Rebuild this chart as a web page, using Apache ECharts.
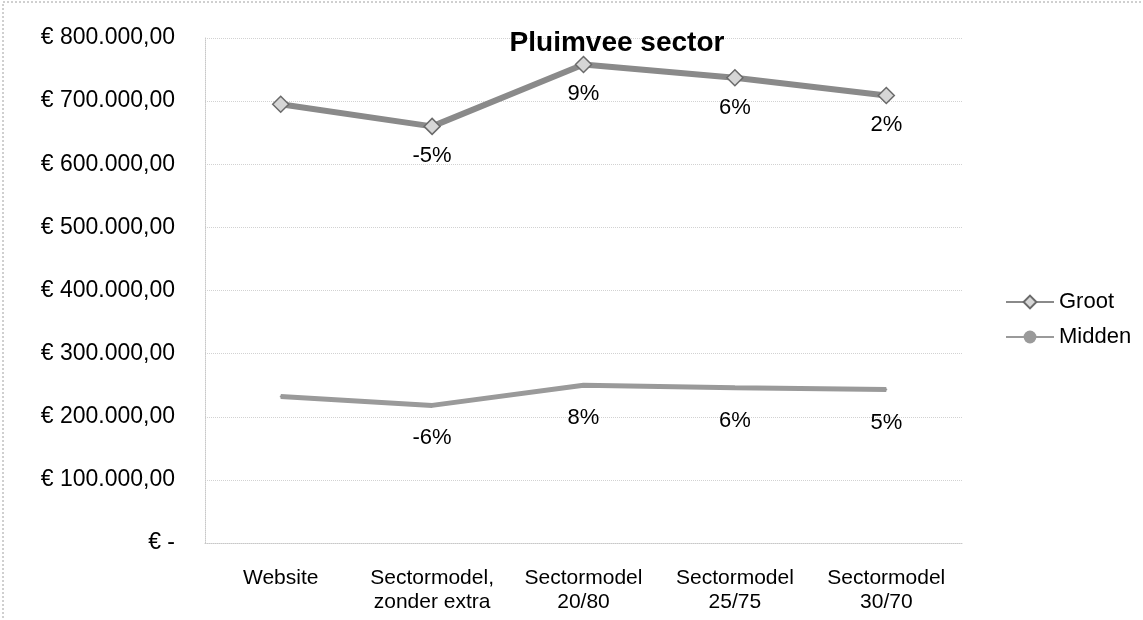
<!DOCTYPE html>
<html>
<head>
<meta charset="utf-8">
<script src="https://cdn.jsdelivr.net/npm/echarts@6/dist/echarts.min.js"></script>
<style>
  html, body { margin: 0; padding: 0; background: #fff; }
  #pluimveeChart { width: 1143px; height: 620px; }
</style>
</head>
<body>
<div id="pluimveeChart"></div>
<script>
var categories = ['Website', 'Sectormodel,\nzonder extra', 'Sectormodel\n20/80', 'Sectormodel\n25/75', 'Sectormodel\n30/70'];
var grootValues = [695000, 660000, 758000, 737000, 709000];
var middenValues = [232000, 218000, 250000, 246000, 243000];
var grootLabels = ['', '-5%', '9%', '6%', '2%'];
var middenLabels = ['', '-6%', '8%', '6%', '5%'];
var yTicks = [0, 100000, 200000, 300000, 400000, 500000, 600000, 700000, 800000];

//euro notatie zoals in excel
function euro(v) {
	if (v === 0) return '€ -';
	var s = String(Math.round(v)).replace(/\B(?=(\d{3})+(?!\d))/g, '.');
	return '€ ' + s + ',00';
}

function withLabels(values, labels) {
	var out = [];
	for (var i = 0; i < values.length; i++) {
		out.push({ value: values[i], label: { show: labels[i] !== '', formatter: labels[i] } });
	}
	return out;
}

var myChart = echarts.init(document.getElementById('pluimveeChart'));

var option = {
	animation: false,
	backgroundColor: '#fff',
	textStyle: { fontFamily: 'Liberation Sans, Arial, sans-serif' },
	title: {
		text: 'Pluimvee sector',
		left: 612,
		top: 24,
		textAlign: 'center',
		textStyle: { fontSize: 28, fontWeight: 'bold', color: '#000' }
	},
	grid: {
		left: 205,
		right: 181,
		top: 38,
		bottom: 77
	},
	legend: {
		orient: 'vertical',
		left: 1000,
		top: 286,
		itemGap: 13,
		itemWidth: 48,
		itemHeight: 16,
		textStyle: { fontSize: 22, color: '#000' },
		data: ['Groot', 'Midden']
	},
	xAxis: {
		type: 'category',
		data: categories,
		boundaryGap: true,
		axisLine: { lineStyle: { color: '#c8c8c8', type: 'dotted' } },
		axisTick: { show: false },
		axisLabel: { fontSize: 21, color: '#000', lineHeight: 24, margin: 23, interval: 0 },
		splitLine: { show: false }
	},
	yAxis: {
		type: 'value',
		min: yTicks[0],
		max: yTicks[yTicks.length - 1],
		interval: 100000,
		axisLine: { show: true, lineStyle: { color: '#c8c8c8', type: 'dotted' } },
		axisTick: { show: false },
		axisLabel: { fontSize: 23, color: '#000', margin: 30, formatter: euro },
		splitLine: { lineStyle: { color: '#d2d2d2', type: 'dotted' } }
	},
	series: [{
		name: 'Groot',
		type: 'line',
		data: withLabels(grootValues, grootLabels),
		symbol: 'diamond',
		symbolSize: 16,
		itemStyle: { color: '#d6d6d6', borderColor: '#6a6a6a', borderWidth: 1.5 },
		lineStyle: { color: '#8a8a8a', width: 6 },
		label: { position: 'bottom', distance: 10, fontSize: 22, color: '#000' },
		z: 3
	}, {
		name: 'Midden',
		type: 'line',
		data: withLabels(middenValues, middenLabels),
		symbol: 'circle',
		symbolSize: 2,
		itemStyle: { color: '#9a9a9a' },
		lineStyle: { color: '#9a9a9a', width: 5 },
		label: { position: 'bottom', distance: 21, fontSize: 22, color: '#000' },
		z: 2
	}],
	graphic: [{
		type: 'rect',
		shape: { x: 3, y: 2, width: 1200, height: 700 },
		style: { fill: 'none', stroke: '#a0a0a0', lineWidth: 1, lineDash: [2, 2] },
		silent: true
	}]
};

myChart.setOption(option);
</script>
</body>
</html>
